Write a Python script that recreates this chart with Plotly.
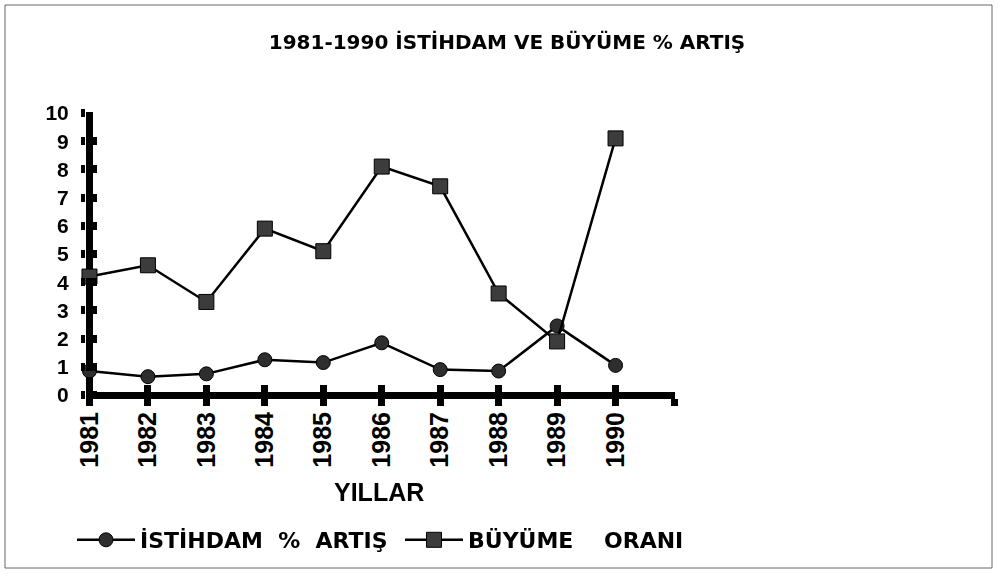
import plotly.graph_objects as go

years = [1981, 1982, 1983, 1984, 1985, 1986, 1987, 1988, 1989, 1990]
istihdam = [0.85, 0.65, 0.75, 1.25, 1.15, 1.85, 0.9, 0.85, 2.45, 1.05]
buyume = [4.2, 4.6, 3.3, 5.9, 5.1, 8.1, 7.4, 3.6, 1.9, 9.1]
year_labels = ["1981", "1982", "1983", "1984", "1985", "1986", "1987", "1988", "1989", "1990", ""]
y_ticks = [0, 1, 2, 3, 4, 5, 6, 7, 8, 9, 10]
series_names = ["İSTİHDAM\u00a0\u00a0%\u00a0\u00a0ARTIŞ", "BÜYÜME\u00a0\u00a0\u00a0\u00a0ORANI"]

# x positions: years counted from the first year (axis lines drawn as zerolines)
xpos = [y - years[0] for y in years]
x_ticks = list(range(len(year_labels)))

ARIAL = "Arial, 'Liberation Sans', Helvetica, sans-serif"
DEJAVU = "'DejaVu Sans', Arial, sans-serif"

W, H = 998, 574
L, R, T, B = 86, 675, 112, 398          # plot-area edges in px
xr = [-3.5 / 58.8, 10 + 1 / 58.8]
yr = [-3.0 / 28.2, 10 + 1 / 28.2]

fig = go.Figure()
fig.add_trace(go.Scatter(
    x=xpos, y=istihdam, mode="lines+markers", name=series_names[0],
    line=dict(color="black", width=2.5),
    marker=dict(symbol="circle", size=14, color="#2e2e2e", line=dict(color="black", width=1)),
    cliponaxis=False, legend="legend",
))
fig.add_trace(go.Scatter(
    x=xpos, y=buyume, mode="lines+markers", name=series_names[1],
    line=dict(color="black", width=2.5),
    marker=dict(symbol="square", size=15, color="#3c3c3c", line=dict(color="black", width=1)),
    cliponaxis=False, legend="legend2",
))
# helper trace on overlay axes that carry the inner halves of the crossing tick marks
fig.add_trace(go.Scatter(
    x=xpos, y=buyume, xaxis="x2", yaxis="y2", mode="markers",
    opacity=0, showlegend=False, hoverinfo="skip",
))

pw = R - L
ph = B - T

legend_common = dict(
    orientation="h", xanchor="left", yanchor="middle",
    y=-(540 - B) / ph,
    font=dict(size=22, family=DEJAVU, color="black", weight="bold"),
    bgcolor="rgba(0,0,0,0)", itemwidth=58,
)

fig.update_layout(
    width=W, height=H,
    paper_bgcolor="white", plot_bgcolor="white",
    margin=dict(l=L, r=W - R, t=T, b=H - B, pad=0, autoexpand=False),
    font=dict(family=ARIAL, color="black"),
    title=dict(
        text="<b>1981-1990 İSTİHDAM VE BÜYÜME % ARTIŞ</b>",
        x=507 / W, xref="container", xanchor="center",
        y=1 - 42 / H, yref="container", yanchor="middle",
        font=dict(size=20, family=DEJAVU, color="black"),
    ),
    xaxis=dict(
        range=xr, tickvals=x_ticks, ticktext=year_labels, automargin=False,
        tickangle=-90, showgrid=False, showline=False,
        zeroline=True, zerolinecolor="black", zerolinewidth=7,
        ticks="outside", ticklen=7, tickwidth=7, tickcolor="black",
        tickfont=dict(size=25, family=ARIAL, color="black", weight="bold"),
        ticklabelstandoff=-4,
    ),
    yaxis=dict(
        range=yr, tickvals=y_ticks, automargin=False,
        showgrid=False, showline=False,
        zeroline=True, zerolinecolor="black", zerolinewidth=7,
        ticks="outside", ticklen=4, tickwidth=8, tickcolor="black",
        tickfont=dict(size=21, family=ARIAL, color="black", weight="bold"),
        ticklabelstandoff=8,
    ),
    xaxis2=dict(
        range=xr, tickvals=x_ticks, overlaying="x", anchor="y2", side="bottom",
        automargin=False,
        showticklabels=False, showgrid=False, zeroline=False, showline=False,
        ticks="inside", ticklen=13, tickwidth=7, tickcolor="black",
    ),
    yaxis2=dict(
        range=yr, tickvals=y_ticks, overlaying="y", anchor="x2", side="left",
        automargin=False,
        showticklabels=False, showgrid=False, zeroline=False, showline=False,
        ticks="inside", ticklen=11, tickwidth=8, tickcolor="black",
    ),
    showlegend=True,
    legend=dict(x=(72 - L) / pw, **legend_common),
    legend2=dict(x=(400 - L) / pw, **legend_common),
    annotations=[dict(
        text="<b>YILLAR</b>", xref="paper", yref="paper",
        x=(379 - L) / pw, y=-(492 - B) / ph,
        xanchor="center", yanchor="middle", showarrow=False,
        font=dict(size=25, family=ARIAL, color="black"),
    )],
    shapes=[dict(
        type="rect", xref="paper", yref="paper",
        x0=(5 - L) / pw, x1=(992 - L) / pw,
        y0=-(568 - B) / ph, y1=1 + (T - 5) / ph,
        line=dict(color="#666666", width=1), layer="below",
    )],
)

fig.write_html("out.html", config={"displayModeBar": False},
               post_script="document.body.style.margin='0';")
